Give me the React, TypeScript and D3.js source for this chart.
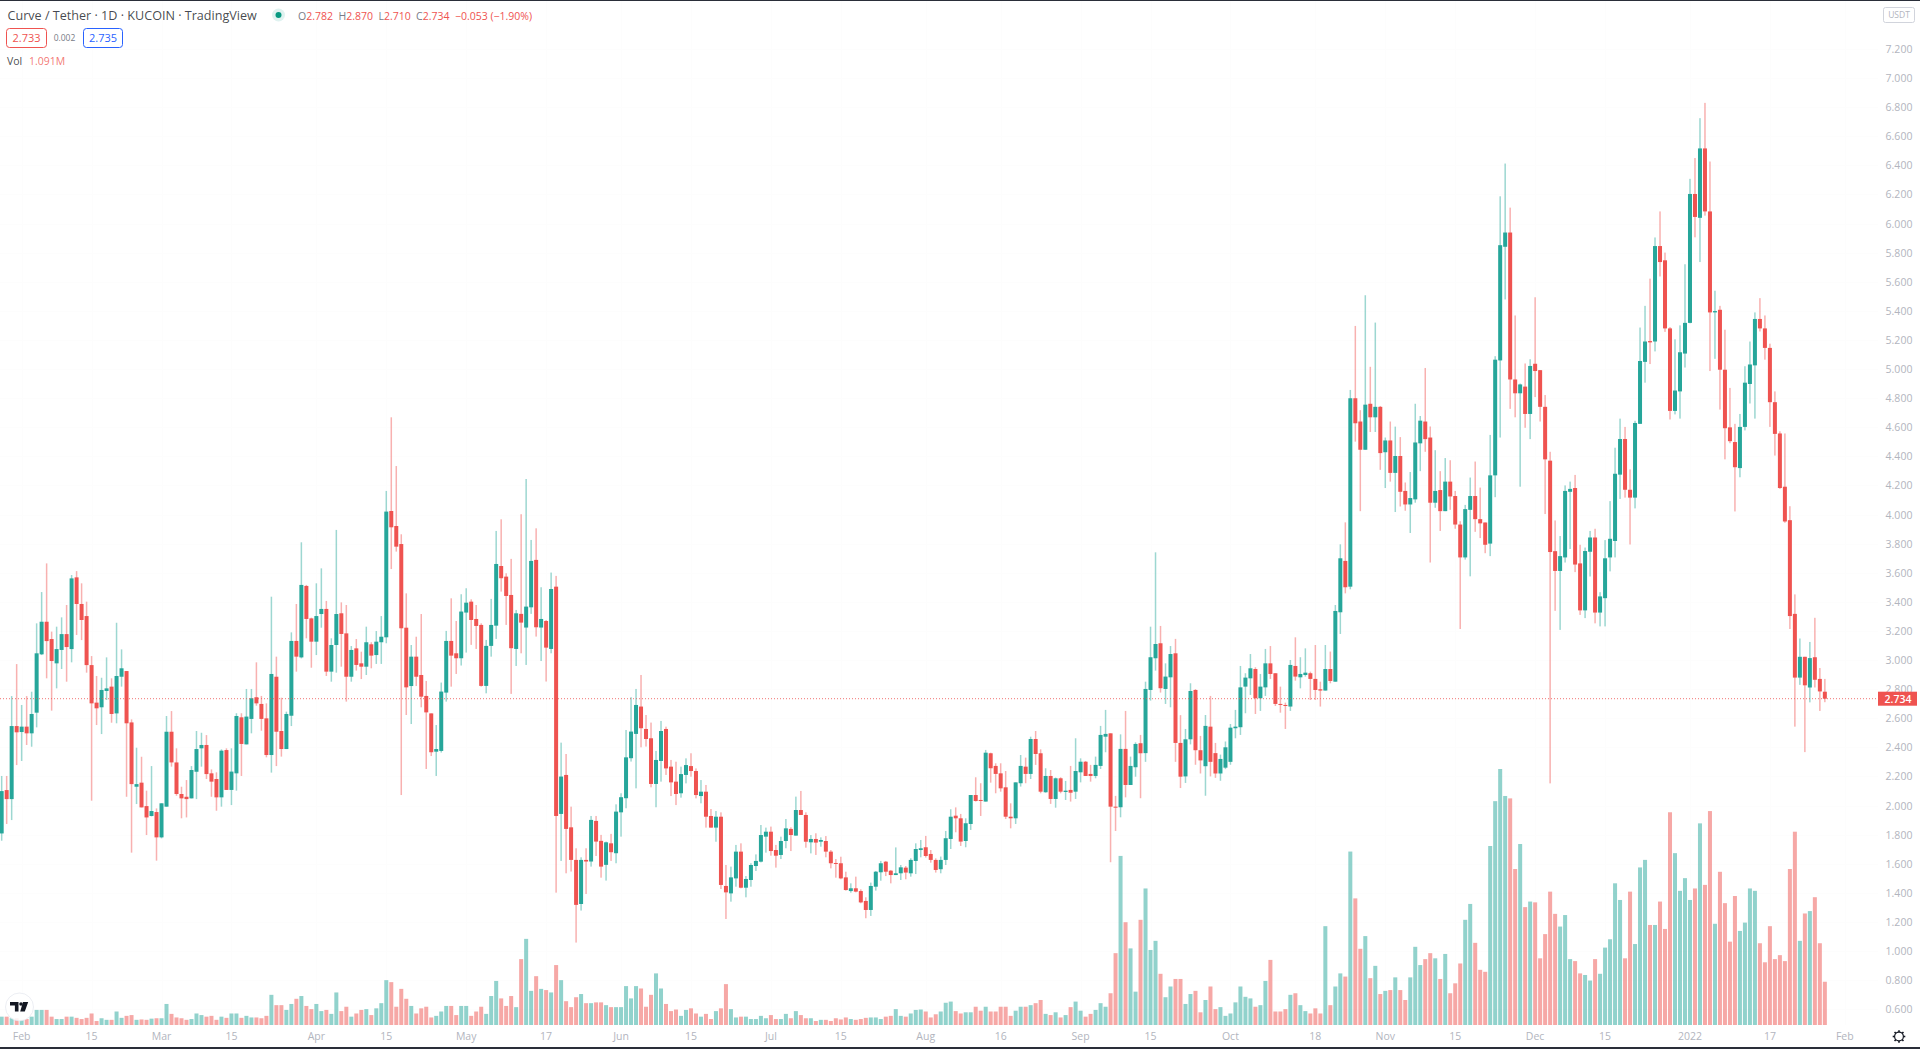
import React from 'react'
import * as d3 from 'd3'

// daily candles, KuCoin CRV/USDT, 2021-01-28 .. 2022-01-28
const firstDay = new Date(Date.UTC(2021, 0, 28))

const opens = [
	1.808,2.106,2.044,2.546,2.505,2.542,2.496,2.638,3.039,3.263,
	3.144,2.977,3.069,3.178,3.075,3.568,3.385,3.302,2.965,2.707,
	2.675,2.787,2.817,2.633,2.885,2.924,2.571,2.129,2.157,1.996,
	1.928,1.955,1.781,1.992,2.507,2.296,2.079,2.060,2.049,2.232,
	2.393,2.416,2.221,2.182,2.056,2.381,2.107,2.221,2.606,2.420,
	2.595,2.744,2.698,2.599,2.347,2.885,2.512,2.388,2.617,3.131,
	3.018,3.509,3.286,3.126,3.316,3.351,2.920,3.103,3.321,3.183,
	2.885,3.080,2.977,2.954,3.108,3.034,3.122,3.156,4.024,3.921,
	3.797,3.222,2.821,3.023,2.897,2.753,2.633,2.370,2.375,2.776,
	3.131,3.046,3.012,3.326,3.401,3.282,3.241,2.822,3.097,3.236,
	3.646,3.573,3.447,3.076,3.317,3.223,3.362,3.688,3.223,3.268,
	3.076,3.504,1.942,2.210,1.850,1.626,1.323,1.626,1.615,1.894,
	1.757,1.592,1.740,1.672,1.953,2.050,2.325,2.492,2.680,2.526,
	2.462,2.148,2.306,2.526,2.267,2.164,2.084,2.210,2.271,2.237,
	2.065,2.095,1.928,1.848,1.923,1.447,1.396,1.499,1.683,1.435,
	1.488,1.584,1.614,1.786,1.820,1.694,1.660,1.756,1.839,1.793,
	1.969,1.935,1.747,1.770,1.751,1.756,1.683,1.605,1.603,1.506,
	1.412,1.431,1.412,1.344,1.282,1.442,1.541,1.614,1.552,1.522,
	1.534,1.573,1.534,1.619,1.694,1.713,1.667,1.626,1.562,1.626,
	1.770,1.930,1.912,1.756,1.873,2.072,2.038,2.027,2.359,2.272,
	2.221,2.125,1.923,1.912,2.153,2.267,2.217,2.457,2.359,2.091,
	2.203,2.045,2.187,2.093,2.107,2.095,2.228,2.301,2.217,2.203,
	2.272,2.473,2.496,1.992,1.988,2.389,2.141,2.263,2.428,2.36,
	2.794,3.012,3.115,2.801,2.881,3.046,2.43,2.20,2.455,2.794,
	2.38,2.27,2.542,2.36,2.22,2.26,2.30,2.531,2.538,2.817,
	2.874,2.938,2.737,2.812,2.977,2.909,2.698,2.691,2.680,2.959,
	2.881,2.897,2.909,2.870,2.799,2.790,2.938,2.851,3.328,3.681,
	3.504,4.799,4.639,4.445,4.761,4.668,4.740,4.428,4.509,4.286,
	4.402,4.162,4.069,4.104,4.489,4.639,4.529,4.081,4.168,4.023,
	4.226,4.127,3.931,3.705,4.032,4.127,3.968,3.945,3.800,4.269,
	5.059,5.840,5.938,4.928,4.833,4.879,4.691,5.036,4.992,4.740,
	4.370,3.748,3.612,3.705,4.156,4.182,3.664,3.341,3.744,3.842,
	3.326,3.425,3.705,3.818,4.274,4.519,4.170,4.116,4.623,5.049,
	5.192,5.189,5.845,5.747,5.279,4.712,4.846,5.106,5.317,6.203,
	6.039,6.516,6.083,5.389,5.407,4.995,4.599,4.498,4.319,4.602,
	4.897,5.025,5.344,5.279,5.145,4.772,4.557,4.191,3.961,3.317,
	2.879,3.022,2.811,3.019,2.870,2.782
]

const highs = [
	2.203,2.203,2.752,2.972,2.691,2.752,2.782,3.252,3.467,3.664,
	3.195,3.229,3.293,3.378,3.584,3.611,3.527,3.401,3.027,2.890,
	2.878,3.018,2.874,3.256,3.073,2.924,2.592,2.397,2.335,2.102,
	2.271,1.980,2.015,2.615,2.649,2.393,2.129,2.175,2.271,2.512,
	2.500,2.484,2.248,2.228,2.386,2.393,2.393,2.634,2.634,2.801,
	2.801,2.984,2.753,2.702,3.435,3.023,2.741,2.645,3.190,3.385,
	3.809,3.516,3.291,3.527,3.630,3.406,3.149,3.894,3.396,3.378,
	3.096,3.144,3.057,3.229,3.122,3.199,3.302,4.162,4.668,4.333,
	3.864,3.458,3.103,3.160,3.316,2.856,2.633,2.553,2.845,3.200,
	3.424,3.268,3.452,3.493,3.417,3.378,3.252,3.138,3.420,3.887,
	3.967,3.596,3.695,3.344,4.002,4.244,3.825,3.905,3.50,3.275,
	3.601,3.578,2.432,2.354,1.992,1.706,1.644,1.706,1.928,1.928,
	1.798,1.752,1.805,2.008,2.084,2.519,2.744,2.801,2.897,2.622,
	2.570,2.375,2.581,2.542,2.313,2.301,2.267,2.324,2.359,2.255,
	2.175,2.141,1.976,1.962,1.953,1.591,1.580,1.729,1.740,1.515,
	1.603,1.664,1.866,1.848,1.855,1.729,1.786,1.907,1.850,2.061,
	2.100,1.953,1.797,1.809,1.781,1.790,1.694,1.632,1.648,1.545,
	1.465,1.511,1.424,1.369,1.470,1.550,1.619,1.619,1.557,1.712,
	1.591,1.584,1.637,1.740,1.763,1.791,1.694,1.637,1.649,1.825,
	1.974,1.987,1.942,1.912,2.072,2.194,2.153,2.382,2.363,2.290,
	2.290,2.237,2.015,2.159,2.347,2.329,2.473,2.512,2.386,2.256,
	2.244,2.192,2.194,2.169,2.272,2.462,2.324,2.306,2.279,2.336,
	2.547,2.657,2.496,2.066,2.489,2.650,2.336,2.434,2.485,2.851,
	3.229,3.740,3.234,2.977,3.096,3.145,2.621,2.526,2.840,2.80,
	2.478,2.622,2.753,2.43,2.35,2.44,2.56,2.657,2.959,2.909,
	3.041,2.950,2.904,3.076,3.096,2.909,2.817,2.707,3.000,3.156,
	3.019,3.080,2.920,3.103,2.851,3.103,3.058,3.378,3.795,3.946,
	4.856,5.296,4.717,5.507,5.015,5.319,4.746,4.529,4.639,4.604,
	4.532,4.220,4.292,4.761,4.677,5.007,4.605,4.442,4.298,4.388,
	4.373,4.162,3.954,4.066,4.254,4.364,4.185,3.945,4.547,5.088,
	6.187,6.412,6.109,5.368,4.900,5.038,5.067,5.493,4.992,4.821,
	4.431,3.959,3.852,4.200,4.226,4.272,3.792,3.773,3.887,3.902,
	3.466,3.824,4.092,4.459,4.659,4.602,4.310,4.644,5.285,5.434,
	5.621,5.904,6.083,5.800,5.288,5.204,5.300,5.720,6.307,6.450,
	6.724,6.829,6.426,5.538,5.434,5.270,4.870,4.623,4.691,5.019,
	5.189,5.389,5.487,5.368,5.174,4.846,4.572,4.557,4.057,3.451,
	3.148,3.022,3.124,3.290,2.945,2.870
]

const lows = [
	1.758,1.873,1.90,2.278,2.306,2.416,2.404,2.537,3.034,2.874,
	2.652,2.805,2.938,2.851,2.984,3.172,3.137,2.913,2.033,2.553,
	2.491,2.725,2.569,2.565,2.817,2.060,1.676,2.010,1.987,1.797,
	1.925,1.621,1.774,1.992,2.267,2.067,1.912,1.918,2.049,2.044,
	2.267,2.182,2.060,1.964,1.992,2.107,2.003,2.102,2.203,2.420,
	2.496,2.686,2.514,2.331,2.226,2.271,2.336,2.388,2.546,2.920,
	3.011,3.149,2.947,3.034,3.222,2.890,2.851,2.913,2.954,2.714,
	2.851,2.927,2.869,2.897,2.943,2.973,2.973,3.115,3.625,3.745,
	2.072,2.622,2.560,2.821,2.675,2.251,2.340,2.203,2.364,2.714,
	2.817,2.904,2.962,3.051,3.104,3.076,2.817,2.771,3.023,3.145,
	3.470,3.241,2.767,2.959,3.046,2.966,3.317,3.161,2.993,2.852,
	3.046,1.401,1.619,1.534,1.546,1.058,1.278,1.392,1.580,1.653,
	1.504,1.484,1.619,1.603,1.786,1.981,2.302,2.118,2.400,2.405,
	2.125,1.988,2.164,2.210,2.065,2.003,2.054,2.152,2.198,2.049,
	2.015,1.848,1.848,1.751,1.426,1.220,1.339,1.442,1.431,1.369,
	1.442,1.550,1.609,1.676,1.655,1.573,1.632,1.706,1.687,1.793,
	1.935,1.710,1.671,1.660,1.717,1.644,1.568,1.504,1.493,1.415,
	1.401,1.403,1.328,1.225,1.241,1.415,1.483,1.515,1.465,1.522,
	1.488,1.493,1.511,1.529,1.644,1.642,1.607,1.539,1.534,1.591,
	1.701,1.816,1.722,1.713,1.832,2.027,1.928,2.027,2.157,2.084,
	2.095,1.907,1.843,1.873,2.130,2.153,2.182,2.279,2.084,2.088,
	2.011,1.985,2.084,2.038,2.027,2.045,2.159,2.203,2.164,2.187,
	2.251,2.366,1.610,1.825,1.919,2.056,2.141,2.198,2.05,2.30,
	2.721,2.927,2.776,2.698,2.675,2.30,2.12,2.155,2.42,2.28,
	2.22,2.067,2.20,2.19,2.17,2.25,2.28,2.462,2.485,2.634,
	2.760,2.629,2.650,2.753,2.870,2.684,2.638,2.526,2.650,2.858,
	2.805,2.886,2.725,2.725,2.680,2.790,2.840,2.851,3.179,3.458,
	3.486,4.501,4.023,4.445,4.567,4.567,4.307,4.182,4.226,4.017,
	4.055,4.026,3.873,4.081,4.298,4.431,3.670,4.046,3.887,4.023,
	4.032,3.902,3.213,3.690,3.575,3.881,3.838,3.734,3.714,4.119,
	4.529,5.478,4.726,4.668,4.191,4.596,4.518,4.807,4.639,4.003,
	2.152,3.338,3.207,3.670,3.763,3.604,3.31,3.288,3.574,3.252,
	3.231,3.231,3.609,3.705,4.107,4.116,3.794,4.042,4.623,4.906,
	5.034,5.121,5.636,5.255,4.653,4.688,4.659,5.010,5.314,5.905,
	5.735,6.054,4.986,5.070,4.721,4.379,4.49,4.021,4.256,4.578,
	4.763,4.659,5.258,5.064,4.602,4.405,4.176,3.943,3.213,2.542,
	2.829,2.367,2.709,2.811,2.650,2.710
]

const closes = [
	2.099,2.044,2.546,2.503,2.542,2.496,2.629,3.046,3.263,3.130,
	2.993,3.075,3.178,3.089,3.561,3.385,3.275,2.965,2.702,2.668,
	2.794,2.805,2.629,2.890,2.943,2.565,2.147,2.147,1.987,1.918,
	1.962,1.781,2.015,2.507,2.296,2.079,2.049,2.044,2.244,2.388,
	2.416,2.216,2.164,2.056,2.377,2.107,2.233,2.615,2.423,2.611,
	2.737,2.702,2.595,2.347,2.904,2.507,2.388,2.629,3.131,3.023,
	3.516,3.282,3.126,3.302,3.351,2.920,3.103,3.316,3.179,2.885,
	3.069,2.966,2.954,3.122,3.030,3.126,3.160,4.020,3.912,3.779,
	3.218,2.812,3.023,2.885,2.748,2.640,2.366,2.388,2.783,3.131,
	3.030,3.012,3.333,3.394,3.275,3.234,2.822,3.097,3.241,3.660,
	3.562,3.440,3.081,3.321,3.257,3.367,3.681,3.225,3.282,3.085,
	3.488,1.928,2.199,1.839,1.626,1.317,1.626,1.615,1.901,1.752,
	1.580,1.747,1.679,1.958,2.057,2.331,2.508,2.691,2.531,2.457,
	2.148,2.313,2.512,2.255,2.159,2.079,2.216,2.278,2.237,2.072,
	2.095,1.923,1.848,1.923,1.454,1.403,1.506,1.683,1.435,1.495,
	1.591,1.619,1.797,1.820,1.687,1.655,1.756,1.843,1.797,1.969,
	1.935,1.751,1.770,1.745,1.763,1.683,1.603,1.600,1.499,1.419,
	1.431,1.408,1.334,1.282,1.447,1.545,1.603,1.545,1.522,1.534,
	1.575,1.539,1.626,1.701,1.706,1.653,1.626,1.557,1.626,1.775,
	1.923,1.912,1.752,1.878,2.072,2.031,2.031,2.363,2.256,2.217,
	2.118,1.923,1.912,2.159,2.272,2.217,2.457,2.354,2.095,2.203,
	2.045,2.187,2.095,2.102,2.088,2.237,2.301,2.203,2.203,2.279,
	2.485,2.492,1.992,1.985,2.389,2.141,2.272,2.423,2.359,2.801,
	3.019,3.110,2.806,2.886,3.041,2.43,2.198,2.455,2.787,2.38,
	2.31,2.547,2.30,2.22,2.32,2.40,2.535,2.542,2.812,2.879,
	2.943,2.737,2.817,2.977,2.904,2.698,2.691,2.684,2.966,2.886,
	2.904,2.913,2.870,2.794,2.790,2.938,2.856,3.337,3.699,3.500,
	4.799,4.627,4.445,4.755,4.668,4.740,4.422,4.509,4.286,4.402,
	4.156,4.069,4.113,4.495,4.645,4.518,4.081,4.162,4.023,4.226,
	4.124,3.931,3.705,4.037,4.127,3.968,3.939,3.792,4.269,5.064,
	5.851,5.938,4.928,4.833,4.894,4.691,5.021,4.986,4.740,4.379,
	3.742,3.612,3.714,4.162,4.176,3.656,3.341,3.749,3.842,3.326,
	3.437,3.699,3.833,4.280,4.519,4.170,4.116,4.629,5.055,5.189,
	5.183,5.845,5.735,5.279,4.712,4.852,5.115,5.317,6.203,6.045,
	6.516,6.083,5.389,5.398,4.995,4.593,4.504,4.325,4.602,4.906,
	5.031,5.344,5.279,5.145,4.772,4.554,4.182,3.952,3.302,2.879,
	3.022,2.826,3.013,2.864,2.784,2.734
]

// volume in millions
const volumes = [
	.21,.21,.17,.17,.13,.15,.21,.38,.38,.38,
	.21,.15,.15,.21,.21,.18,.15,.18,.29,.10,
	.17,.13,.13,.34,.18,.23,.25,.13,.14,.13,
	.16,.17,.17,.53,.28,.19,.17,.13,.15,.29,
	.25,.21,.23,.13,.21,.18,.29,.29,.18,.23,
	.19,.19,.17,.23,.76,.50,.50,.38,.53,.66,
	.73,.48,.40,.53,.35,.38,.28,.82,.35,.46,
	.21,.29,.38,.40,.25,.42,.55,1.13,1.08,.46,
	.91,.66,.48,.29,.42,.46,.19,.23,.34,.48,
	.48,.25,.48,.48,.23,.34,.46,.28,.73,1.11,
	.67,.48,.73,.45,1.66,2.17,.86,1.23,.91,.88,
	.82,1.51,1.13,.60,.45,.70,.78,.55,.55,.57,
	.57,.50,.45,.45,.45,.98,.67,.98,.92,.46,
	.76,1.30,.92,.53,.35,.39,.23,.38,.42,.29,
	.21,.28,.15,.35,.42,1.03,.40,.19,.21,.21,
	.15,.15,.23,.17,.25,.15,.15,.28,.17,.35,
	.25,.17,.17,.10,.13,.13,.10,.17,.14,.19,
	.15,.13,.15,.18,.19,.19,.15,.21,.23,.40,
	.23,.21,.29,.38,.39,.34,.19,.27,.34,.56,
	.59,.35,.29,.32,.32,.46,.36,.46,.34,.34,
	.46,.46,.23,.36,.46,.46,.50,.55,.63,.28,
	.25,.32,.19,.25,.45,.59,.36,.21,.28,.38,
	.55,.46,.80,1.81,4.26,2.59,1.93,.84,2.65,3.44,
	1.89,2.12,1.29,.70,.97,1.16,1.16,.53,.78,.86,
	.32,.63,.97,.40,.45,.23,.29,.57,.97,.71,
	.67,.46,.50,1.11,1.64,.34,.34,.40,.76,.80,
	.50,.35,.29,.42,.29,2.49,.50,.97,1.30,1.22,
	4.37,3.19,1.92,2.24,1.18,1.49,.78,.86,.88,1.20,
	.88,.63,1.20,1.97,1.51,1.66,1.81,1.68,1.16,1.79,
	.80,1.05,1.55,2.65,3.05,2.07,1.39,1.34,4.51,5.64,
	6.45,5.77,5.71,3.93,4.56,2.97,3.11,3.09,1.68,2.29,
	3.36,2.80,2.48,2.77,1.66,1.61,1.30,1.26,1.12,1.66,
	1.29,1.95,2.16,3.57,3.15,1.68,3.36,2.04,3.97,4.16,
	2.52,2.52,3.11,2.42,5.36,4.33,3.38,3.70,3.15,3.44,
	5.08,3.53,5.39,2.55,3.86,3.07,2.10,3.25,2.37,2.58,
	3.44,3.38,2.06,1.58,2.49,1.66,1.76,1.61,3.93,4.87,
	2.12,2.81,2.87,3.22,2.06,1.09
]

const priceTicks = [
	0.6,0.8,1.0,1.2,1.4,1.6,1.8,2.0,2.2,2.4,2.6,2.8,3.0,3.2,3.4,3.6,3.8,
	4.0,4.2,4.4,4.6,4.8,5.0,5.2,5.4,5.6,5.8,6.0,6.2,6.4,6.6,6.8,7.0,7.2
]
const timeTicks = [
	'2021-02-01','2021-02-15','2021-03-01','2021-03-15','2021-04-01','2021-04-15','2021-05-01','2021-05-17',
	'2021-06-01','2021-06-15','2021-07-01','2021-07-15','2021-08-01','2021-08-16','2021-09-01','2021-09-15',
	'2021-10-01','2021-10-18','2021-11-01','2021-11-15','2021-12-01','2021-12-15','2022-01-01','2022-01-17','2022-02-01'
]
const timeLabels = [
	'Feb','15','Mar','15','Apr','15','May','17','Jun','15','Jul','15','Aug','16','Sep','15',
	'Oct','18','Nov','15','Dec','15','2022','17','Feb'
]

const UP = '#26a69a'
const DOWN = '#ef5350'
const AXIS = '#b2b5be'
const FONT = '"Open Sans", sans-serif'
const lastPrice = closes[closes.length - 1]

const x = d3
	.scaleUtc()
	.domain([firstDay, d3.utcDay.offset(firstDay, 365)])
	.range([1.67, 1824.85])
const y = d3.scaleLinear().domain([3, 2]).range([660, 805.5])
const yVol = d3.scaleLinear().domain([0, 6.45]).range([1025, 769])
const priceFmt = d3.format('.3f')

const gearTeeth = d3.range(8).map((k) => (k * Math.PI) / 4)

const App = () => {
	const days = d3.range(closes.length)
	return (
		<svg
			width={1920}
			height={1049}
			style={{ position: 'absolute', left: 0, top: 0, background: '#fff', fontFamily: FONT }}
		>
			{/* 网格 */}
			<g stroke="#fdfdfd" strokeWidth={1}>
				{priceTicks.map((t) => (
					<line key={t} x1={0} x2={1878} y1={Math.round(y(t)) + 0.5} y2={Math.round(y(t)) + 0.5} />
				))}
				{timeTicks.map((t) => {
					const px = Math.round(x(new Date(t + 'T00:00:00Z'))) + 0.5
					return <line key={t} x1={px} x2={px} y1={0} y2={1025} />
				})}
			</g>

			{/* 成交量 */}
			<g opacity={0.5}>
				{days.map((i) => {
					const cx = x(d3.utcDay.offset(firstDay, i))
					return (
						<rect
							key={i}
							x={cx - 2}
							width={4}
							y={yVol(volumes[i])}
							height={yVol(0) - yVol(volumes[i])}
							fill={closes[i] >= opens[i] ? UP : DOWN}
						/>
					)
				})}
			</g>

			{/* K线 */}
			<g>
				{days.map((i) => {
					const cx = x(d3.utcDay.offset(firstDay, i))
					const c = closes[i] >= opens[i] ? UP : DOWN
					const top = y(Math.max(opens[i], closes[i]))
					const bottom = y(Math.min(opens[i], closes[i]))
					return (
						<g key={i}>
							<rect x={cx - 0.75} width={1.5} y={y(highs[i])} height={y(lows[i]) - y(highs[i])} fill={c} opacity={0.45} />
							<rect x={cx - 2} width={4} y={top} height={Math.max(bottom - top, 1)} fill={c} />
						</g>
					)
				})}
			</g>

			{/* 最新价 */}
			<line
				x1={0}
				x2={1878}
				y1={y(lastPrice)}
				y2={y(lastPrice)}
				stroke={DOWN}
				strokeDasharray="1 2"
				opacity={0.8}
			/>

			{/* 右轴 */}
			<g fill={AXIS} fontSize={10.5} textAnchor="middle">
				{priceTicks.map((t) => (
					<text key={t} x={1899} y={y(t) + 4}>
						{priceFmt(t)}
					</text>
				))}
			</g>
			<rect x={1878} y={y(lastPrice) - 7} width={39} height={14} fill={DOWN} />
			<text x={1898} y={y(lastPrice) + 4} fill="#fff" fontSize={10.5} fontWeight={600} textAnchor="middle">
				{priceFmt(lastPrice)}
			</text>
			<rect x={1883.5} y={7.5} width={31} height={15} rx={2} fill="#fff" stroke="#d1d4dc" />
			<text x={1899} y={18} fill={AXIS} fontSize={8.5} textAnchor="middle">
				USDT
			</text>

			{/* 时间轴 */}
			<g fill={AXIS} fontSize={10.5} textAnchor="middle">
				{timeTicks.map((t, k) => (
					<text key={t} x={x(new Date(t + 'T00:00:00Z'))} y={1040}>
						{timeLabels[k]}
					</text>
				))}
			</g>

			{/* 标题 */}
			<text x={7.5} y={20} fontSize={12.6} fill="#131722" fillOpacity={0.8}>
				Curve / Tether · 1D · KUCOIN · TradingView
			</text>
			<circle cx={278.5} cy={15} r={6.5} fill={UP} opacity={0.15} />
			<circle cx={278.5} cy={15} r={3} fill="#089981" />
			<g fontSize={10.5}>
				<text x={298} y={20} fill="#787b86">O<tspan fill={DOWN}>{priceFmt(opens[365])}</tspan></text>
				<text x={338.5} y={20} fill="#787b86">H<tspan fill={DOWN}>{priceFmt(highs[365])}</tspan></text>
				<text x={378.5} y={20} fill="#787b86">L<tspan fill={DOWN}>{priceFmt(lows[365])}</tspan></text>
				<text x={416} y={20} fill="#787b86">C<tspan fill={DOWN}>{priceFmt(closes[365])}</tspan></text>
				<text x={455} y={20} fill={DOWN}>−0.053 (−1.90%)</text>
			</g>
			<rect x={6.5} y={28.5} width={40} height={19} rx={3} fill="#fff" stroke={DOWN} />
			<text x={26.5} y={42} fontSize={11} fill={DOWN} textAnchor="middle">2.733</text>
			<text x={64.5} y={41} fontSize={8.5} fill="#787b86" textAnchor="middle">0.002</text>
			<rect x={83.5} y={28.5} width={39} height={19} rx={3} fill="#fff" stroke="#2962ff" />
			<text x={103} y={42} fontSize={11} fill="#2962ff" textAnchor="middle">2.735</text>
			<text x={7} y={65} fontSize={10.5} fill="#131722" fillOpacity={0.8}>Vol</text>
			<text x={29} y={65} fontSize={10.5} fill={DOWN} fillOpacity={0.8}>1.091M</text>

			{/* 角标 */}
			<circle cx={19.5} cy={1007} r={14} fill="#fff" fillOpacity={0.85} stroke="#e0e3eb" strokeOpacity={0.6} />
			<path
				d="M10 1002h8.5v9.5h-3.6v-6H10z M23 1002h5.2l-3.4 9.5h-4.6z"
				fill="#131722"
			/>
			<circle cx={21} cy={1004} r={1.8} fill="#131722" />

			<g transform="translate(1899,1036.5)" stroke="#131722" fill="none">
				<circle r={4.4} strokeWidth={1.2} />
				{gearTeeth.map((a) => (
					<line
						key={a}
						x1={4.4 * Math.cos(a)}
						y1={4.4 * Math.sin(a)}
						x2={6.3 * Math.cos(a)}
						y2={6.3 * Math.sin(a)}
						strokeWidth={1.6}
					/>
				))}
			</g>

			{/* 上下边框 */}
			<rect x={0} y={0} width={1920} height={1} fill="#2a2e39" />
			<rect x={0} y={1047} width={1920} height={2} fill="#2a2e39" />
		</svg>
	)
}

export default App
